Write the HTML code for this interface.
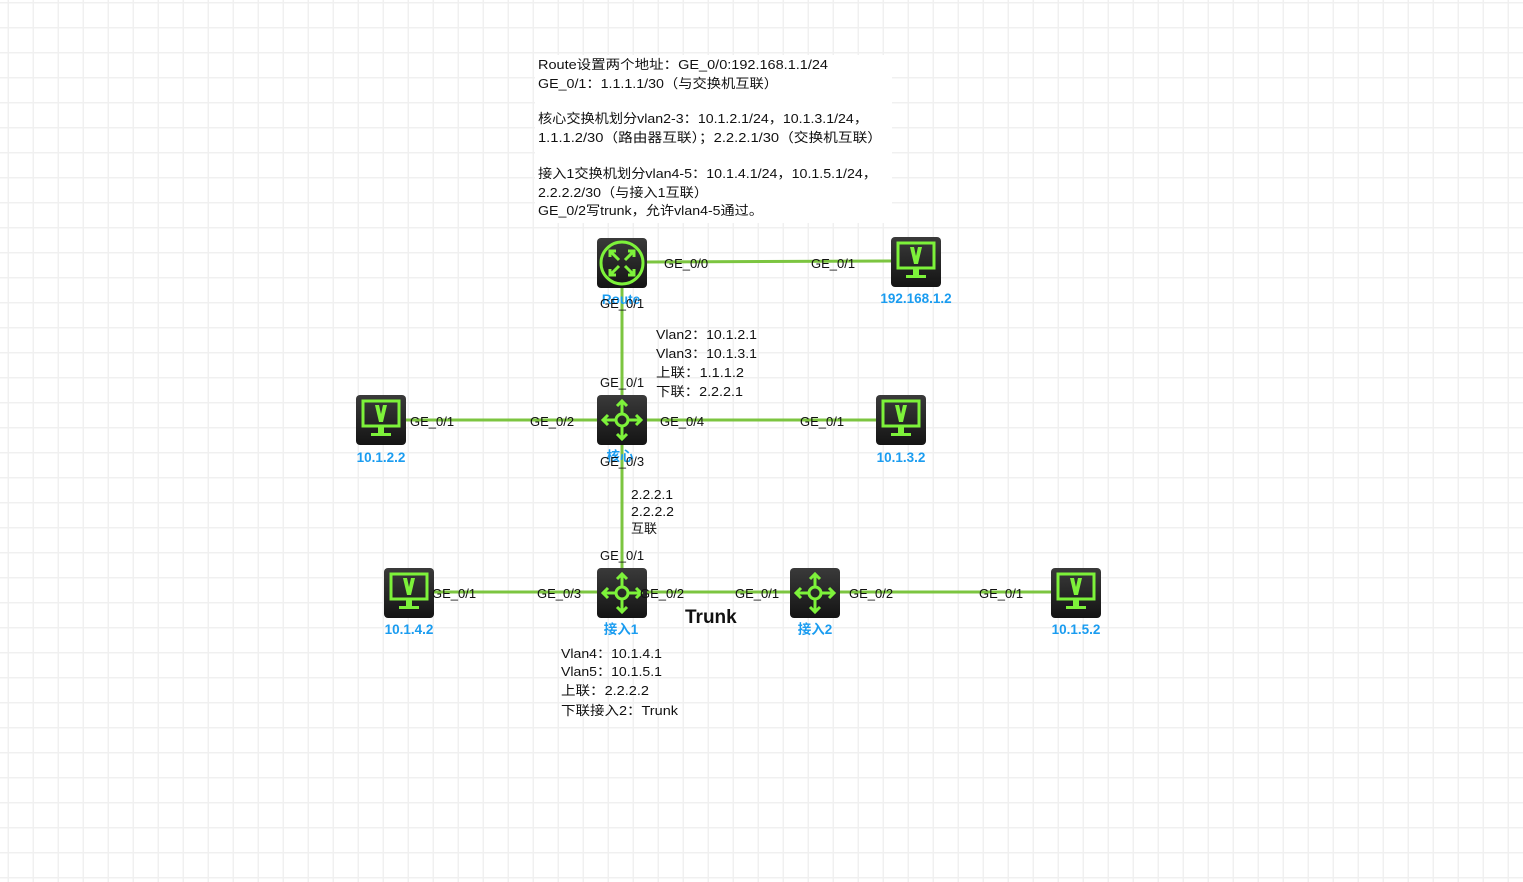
<!DOCTYPE html>
<html><head><meta charset="utf-8">
<style>
html,body{margin:0;padding:0;background:#fff;}
body{width:1523px;height:882px;overflow:hidden;position:relative;
background-image:linear-gradient(to right,#f0f0f0 0,#f0f0f0 1.5px,transparent 1.5px),linear-gradient(to bottom,#f0f0f0 0,#f0f0f0 1.5px,transparent 1.5px);
background-size:25px 25px;background-position:7.5px 2px;}
svg{position:absolute;left:0;top:0;}
text{font-family:"Liberation Sans","Noto Sans CJK SC",sans-serif;}
.t{font-size:13px;fill:#111;}
.n{font-size:13.5px;fill:#1a9cf0;font-weight:bold;text-anchor:middle;}
</style></head><body>
<div style="position:absolute;left:535px;top:55px;width:357px;height:168px;background:#fff"></div>
<svg width="1523" height="882" viewBox="0 0 1523 882">
<defs>
<linearGradient id="g" x1="0" y1="0" x2="0" y2="1"><stop offset="0" stop-color="#3a3a3a"/><stop offset="1" stop-color="#141414"/></linearGradient>
<symbol id="pc" viewBox="0 0 50 50"><rect width="50" height="50" rx="4" fill="url(#g)"/>
<rect x="7" y="6" width="36" height="25" fill="none" stroke="#7df23a" stroke-width="3"/>
<path d="M19 10 L23 10 L25 19 L27 10 L31 10 L27 27 L23 27 Z" fill="#7df23a"/>
<rect x="22" y="32" width="6" height="6" fill="#7df23a"/><rect x="15" y="38" width="20" height="3" fill="#7df23a"/></symbol>
<symbol id="sw" viewBox="0 0 50 50"><rect width="50" height="50" rx="4" fill="url(#g)"/>
<circle cx="25" cy="25" r="6" fill="none" stroke="#7df23a" stroke-width="3"/>
<g stroke="#7df23a" stroke-width="3" fill="none"><path d="M25 19V7M25 31V43M19 25H7M31 25H43"/>
<path d="M20 11L25 6L30 11M20 39L25 44L30 39M11 20L6 25L11 30M39 20L44 25L39 30"/></g></symbol>
<symbol id="rt" viewBox="0 0 50 50"><rect width="50" height="50" rx="4" fill="url(#g)"/>
<circle cx="25" cy="25" r="21" fill="none" stroke="#7df23a" stroke-width="3"/>
<g stroke="#7df23a" stroke-width="3" fill="none"><path d="M13 13L22 22M37 37L28 28M37 13L28 22M13 37L22 28"/>
<path d="M13 19V13H19M37 31V37H31M31 13H37V19M19 37H13V31"/></g></symbol>
</defs>
<g stroke="#7cc540" stroke-width="3">
<line x1="647" y1="262" x2="891" y2="261"/>
<line x1="622" y1="288" x2="622" y2="395"/>
<line x1="406" y1="420" x2="597" y2="420"/>
<line x1="647" y1="420" x2="876" y2="420"/>
<line x1="622" y1="445" x2="622" y2="568"/>
<line x1="434" y1="592" x2="597" y2="592"/>
<line x1="647" y1="592" x2="790" y2="592"/>
<line x1="840" y1="592" x2="1051" y2="592"/>
</g>
<use href="#rt" x="597" y="238" width="50" height="50"/>
<use href="#pc" x="891" y="237" width="50" height="50"/>
<use href="#sw" x="597" y="395" width="50" height="50"/>
<use href="#pc" x="356" y="395" width="50" height="50"/>
<use href="#pc" x="876" y="395" width="50" height="50"/>
<use href="#sw" x="597" y="568" width="50" height="50"/>
<use href="#pc" x="384" y="568" width="50" height="50"/>
<use href="#sw" x="790" y="568" width="50" height="50"/>
<use href="#pc" x="1051" y="568" width="50" height="50"/>
<text class="n" x="621" y="304">Route</text>
<text class="n" x="916" y="303">192.168.1.2</text>
<text class="n" x="620" y="461">核心</text>
<text class="n" x="381" y="462">10.1.2.2</text>
<text class="n" x="901" y="462">10.1.3.2</text>
<text class="n" x="621" y="634">接入1</text>
<text class="n" x="409" y="634">10.1.4.2</text>
<text class="n" x="815" y="634">接入2</text>
<text class="n" x="1076" y="634">10.1.5.2</text>
<g class="t">
<text class="t" x="538" y="69" textLength="290" lengthAdjust="spacingAndGlyphs">Route设置两个地址：GE_0/0:192.168.1.1/24</text>
<text class="t" x="538" y="88" textLength="240" lengthAdjust="spacingAndGlyphs">GE_0/1：1.1.1.1/30（与交换机互联）</text>
<text class="t" x="538" y="123" textLength="330" lengthAdjust="spacingAndGlyphs">核心交换机划分vlan2-3：10.1.2.1/24，10.1.3.1/24，</text>
<text class="t" x="538" y="142" textLength="344" lengthAdjust="spacingAndGlyphs">1.1.1.2/30（路由器互联）；2.2.2.1/30（交换机互联）</text>
<text class="t" x="538" y="178" textLength="339" lengthAdjust="spacingAndGlyphs">接入1交换机划分vlan4-5：10.1.4.1/24，10.1.5.1/24，</text>
<text class="t" x="538" y="197" textLength="170" lengthAdjust="spacingAndGlyphs">2.2.2.2/30（与接入1互联）</text>
<text class="t" x="538" y="215" textLength="225" lengthAdjust="spacingAndGlyphs">GE_0/2写trunk，允许vlan4-5通过。</text>
<text class="t" x="664" y="268" font-size="12">GE_0/0</text>
<text class="t" x="811" y="268" font-size="12">GE_0/1</text>
<text class="t" x="600" y="308" font-size="12">GE_0/1</text>
<text class="t" x="656" y="339" textLength="101" lengthAdjust="spacingAndGlyphs">Vlan2：10.1.2.1</text>
<text class="t" x="656" y="358" textLength="101" lengthAdjust="spacingAndGlyphs">Vlan3：10.1.3.1</text>
<text class="t" x="656" y="377" textLength="88" lengthAdjust="spacingAndGlyphs">上联：1.1.1.2</text>
<text class="t" x="656" y="396" textLength="87" lengthAdjust="spacingAndGlyphs">下联：2.2.2.1</text>
<text class="t" x="600" y="387" font-size="12">GE_0/1</text>
<text class="t" x="410" y="426" font-size="12">GE_0/1</text>
<text class="t" x="530" y="426" font-size="12">GE_0/2</text>
<text class="t" x="660" y="426" font-size="12">GE_0/4</text>
<text class="t" x="800" y="426" font-size="12">GE_0/1</text>
<text class="t" x="600" y="466" font-size="12">GE_0/3</text>
<text class="t" x="631" y="499" textLength="42" lengthAdjust="spacingAndGlyphs">2.2.2.1</text>
<text class="t" x="631" y="516" textLength="43" lengthAdjust="spacingAndGlyphs">2.2.2.2</text>
<text class="t" x="631" y="533">互联</text>
<text class="t" x="600" y="560" font-size="12">GE_0/1</text>
<text class="t" x="432" y="598" font-size="12">GE_0/1</text>
<text class="t" x="537" y="598" font-size="12">GE_0/3</text>
<text class="t" x="640" y="598" font-size="12">GE_0/2</text>
<text class="t" x="735" y="598" font-size="12">GE_0/1</text>
<text class="t" x="849" y="598" font-size="12">GE_0/2</text>
<text class="t" x="979" y="598" font-size="12">GE_0/1</text>
<text x="685" y="623" font-size="19" font-weight="bold" fill="#111">Trunk</text>
<text class="t" x="561" y="658" textLength="101" lengthAdjust="spacingAndGlyphs">Vlan4：10.1.4.1</text>
<text class="t" x="561" y="676" textLength="101" lengthAdjust="spacingAndGlyphs">Vlan5：10.1.5.1</text>
<text class="t" x="561" y="695" textLength="88" lengthAdjust="spacingAndGlyphs">上联：2.2.2.2</text>
<text class="t" x="561" y="715" textLength="117" lengthAdjust="spacingAndGlyphs">下联接入2：Trunk</text>
</g>
</svg>
</body></html>
